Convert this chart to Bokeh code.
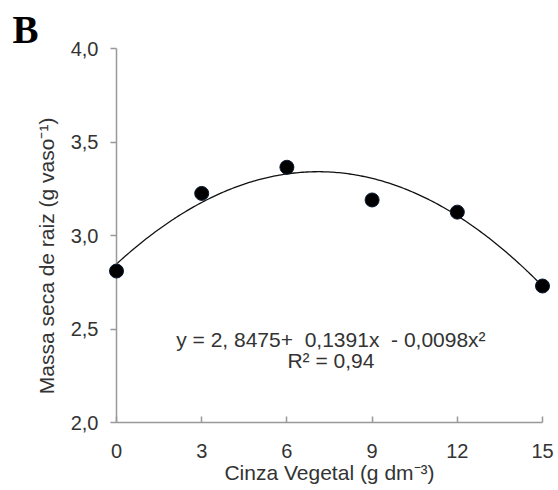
from bokeh.plotting import figure
from bokeh.models import FixedTicker, Label, Range1d
from bokeh.embed import file_html
from bokeh.resources import INLINE
import numpy as np

# Root dry mass (g per pot) by plant ash dose (g dm-3)
doses = [0, 3, 6, 9, 12, 15]
root_mass = [2.81, 3.225, 3.365, 3.19, 3.125, 2.73]

# Quadratic fit coefficients
b0, b1, b2 = 2.8475, 0.1391, -0.0098
r_squared = "0,94"

x_ticks = [0, 3, 6, 9, 12, 15]
y_ticks = [2.0, 2.5, 3.0, 3.5, 4.0]
y_tick_labels = {2.0: "2,0", 2.5: "2,5", 3.0: "3,0", 3.5: "3,5", 4.0: "4,0"}

FONT = "Liberation Sans"
TEXT = "#333333"
AXIS = "#999999"

p = figure(width=558, height=490, output_backend="svg", toolbar_location=None,
           x_range=Range1d(0, 15), y_range=Range1d(2.0, 4.0),
           min_border_left=116, min_border_right=16,
           min_border_top=48, min_border_bottom=68)
p.outline_line_color = None
p.grid.visible = False
p.background_fill_color = "white"
p.border_fill_color = "white"

# panel letter as the plot title, pushed to the left edge
p.title.text = "B"
p.title.align = "left"
p.title.offset = -104
p.title.standoff = -4
p.title.text_font = "Liberation Serif"
p.title.text_font_size = "39px"
p.title.text_font_style = "bold"
p.title.text_color = "black"

# fitted curve
xs = np.linspace(0, 15, 200)
p.line(xs, b0 + b1 * xs + b2 * xs ** 2, line_color="#111111", line_width=1.3)

# observed means, kept above the frame clip so edge points stay whole
pts = p.scatter(doses, root_mass, size=14, fill_color="black",
                line_color="#0b1a33", line_width=1)
pts.level = "overlay"

xa = p.xaxis[0]
xa.ticker = FixedTicker(ticks=x_ticks)
xa.major_tick_in = 6
xa.major_tick_out = 0
xa.minor_tick_line_color = None
xa.axis_line_color = AXIS
xa.major_tick_line_color = AXIS
xa.axis_line_width = 1.5
xa.major_tick_line_width = 1.5
xa.major_label_standoff = 21
xa.major_label_text_font = FONT
xa.major_label_text_font_size = "20px"
xa.major_label_text_color = TEXT
xa.axis_label = "Cinza Vegetal (g dm\u207b\u00b3)"
xa.axis_label_text_font = FONT
xa.axis_label_text_font_size = "21px"
xa.axis_label_text_font_style = "normal"
xa.axis_label_text_color = TEXT
xa.axis_label_standoff = 0

ya = p.yaxis[0]
ya.ticker = FixedTicker(ticks=y_ticks)
ya.major_label_overrides = y_tick_labels
ya.major_tick_in = 0
ya.major_tick_out = 6
ya.minor_tick_line_color = None
ya.axis_line_color = AXIS
ya.major_tick_line_color = AXIS
ya.axis_line_width = 1.5
ya.major_tick_line_width = 1.5
ya.major_label_standoff = 12
ya.major_label_text_font = FONT
ya.major_label_text_font_size = "20px"
ya.major_label_text_color = TEXT
# trailing no-break spaces slide the rotated title a little toward the bottom
ya.axis_label = "Massa seca de raiz (g vaso\u207b\u00b9)" + "\u00a0" * 7
ya.axis_label_text_font = FONT
ya.axis_label_text_font_size = "21px"
ya.axis_label_text_font_style = "normal"
ya.axis_label_text_color = TEXT
ya.axis_label_standoff = 10

# regression equation and coefficient of determination
eq = Label(x=7.55, y=2.445,
           text="y = 2, 8475+\u00a0 0,1391x\u00a0 - 0,0098x\u00b2",
           text_align="center", text_baseline="middle",
           text_font=FONT, text_font_size="21px", text_color=TEXT)
r2 = Label(x=7.55, y=2.33, text="R\u00b2 = " + r_squared,
           text_align="center", text_baseline="middle",
           text_font=FONT, text_font_size="21px", text_color=TEXT)
p.add_layout(eq)
p.add_layout(r2)

open("out.html", "w").write(file_html(p, INLINE))
